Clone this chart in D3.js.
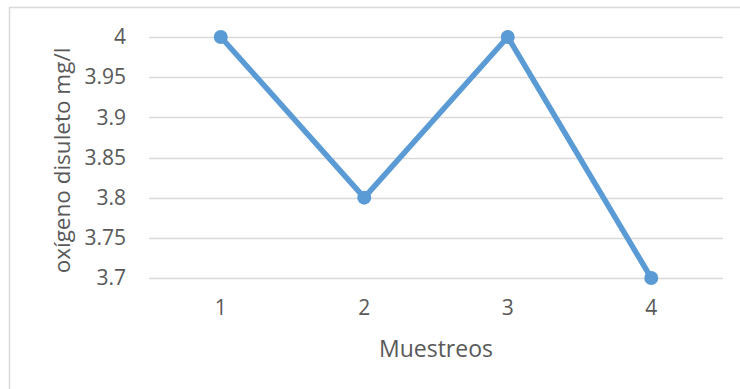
<!DOCTYPE html>
<html>
<head>
<meta charset="utf-8">
<script src="https://cdn.jsdelivr.net/npm/d3@7"></script>
<style>
  html, body { margin: 0; padding: 0; background: #fff; }
  svg { display: block; }
  text { font-family: "Open Sans", "Liberation Sans", sans-serif; fill: #595959; }
</style>
</head>
<body>
<svg id="chart" width="740" height="389"></svg>
<script>
// Dissolved oxygen per sampling
const categories = ["1", "2", "3", "4"];
const values = [4.0, 3.8, 4.0, 3.7];
const yTicks = [3.7, 3.75, 3.8, 3.85, 3.9, 3.95, 4];
const yTitle = "oxígeno disuleto mg/l";
const xTitle = "Muestreos";

const svg = d3.select("#chart");
const W = 740, H = 389;
const margin = { left: 149, right: 17, top: 37, bottom: 111 };
const FONT = '"Open Sans", "Liberation Sans", sans-serif';

// outer frame (runs past the right and bottom edges of the canvas)
svg.append("rect")
  .attr("x", 9.5).attr("y", 7.5)
  .attr("width", W).attr("height", H)
  .attr("fill", "#fff").attr("stroke", "#d9d9d9").attr("stroke-width", 1.5);

const x = d3.scaleBand()
  .domain(categories)
  .range([margin.left, W - margin.right]);

const y = d3.scaleLinear()
  .domain([3.7, 4])
  .range([H - margin.bottom, margin.top]);

// gridlines
svg.append("g")
  .selectAll("line")
  .data(yTicks)
  .join("line")
  .attr("x1", margin.left).attr("x2", W - margin.right)
  .attr("y1", d => Math.round(y(d)) + 0.5).attr("y2", d => Math.round(y(d)) + 0.5)
  .attr("stroke", "#d9d9d9").attr("stroke-width", 1.3);

// y axis labels
const yAxis = d3.axisLeft(y).tickValues(yTicks).tickSize(0).tickPadding(0)
  .tickFormat(d => String(+d.toFixed(2)));
const gy = svg.append("g").attr("transform", `translate(${margin.left - 23},0)`).call(yAxis);
gy.select(".domain").remove();
gy.selectAll("text").attr("font-size", 21).attr("fill", "#595959")
  .style("font-family", FONT);

// x axis labels
const xAxis = d3.axisBottom(x).tickSize(0).tickPadding(0);
const gx = svg.append("g").attr("transform", `translate(0,${H - margin.bottom + 22})`).call(xAxis);
gx.select(".domain").remove();
gx.selectAll("text").attr("font-size", 21).attr("fill", "#595959")
  .style("font-family", FONT);

// axis titles
svg.append("text")
  .attr("transform", `translate(70,${(margin.top + H - margin.bottom) / 2 + 3}) rotate(-90)`)
  .attr("text-anchor", "middle")
  .attr("font-size", 22.5)
  .text(yTitle);

svg.append("text")
  .attr("x", (margin.left + W - margin.right) / 2)
  .attr("y", 357)
  .attr("text-anchor", "middle")
  .attr("font-size", 23)
  .text(xTitle);

// series line
const cx = d => x(d) + x.bandwidth() / 2;
const line = d3.line()
  .x((d, i) => cx(categories[i]))
  .y(d => y(d));

svg.append("path")
  .datum(values)
  .attr("d", line)
  .attr("fill", "none")
  .attr("stroke", "#5B9BD5")
  .attr("stroke-width", 5.5)
  .attr("stroke-linejoin", "round");

svg.append("g")
  .selectAll("circle")
  .data(values)
  .join("circle")
  .attr("cx", (d, i) => cx(categories[i]))
  .attr("cy", d => y(d))
  .attr("r", 7)
  .attr("fill", "#5B9BD5");
</script>
</body>
</html>
